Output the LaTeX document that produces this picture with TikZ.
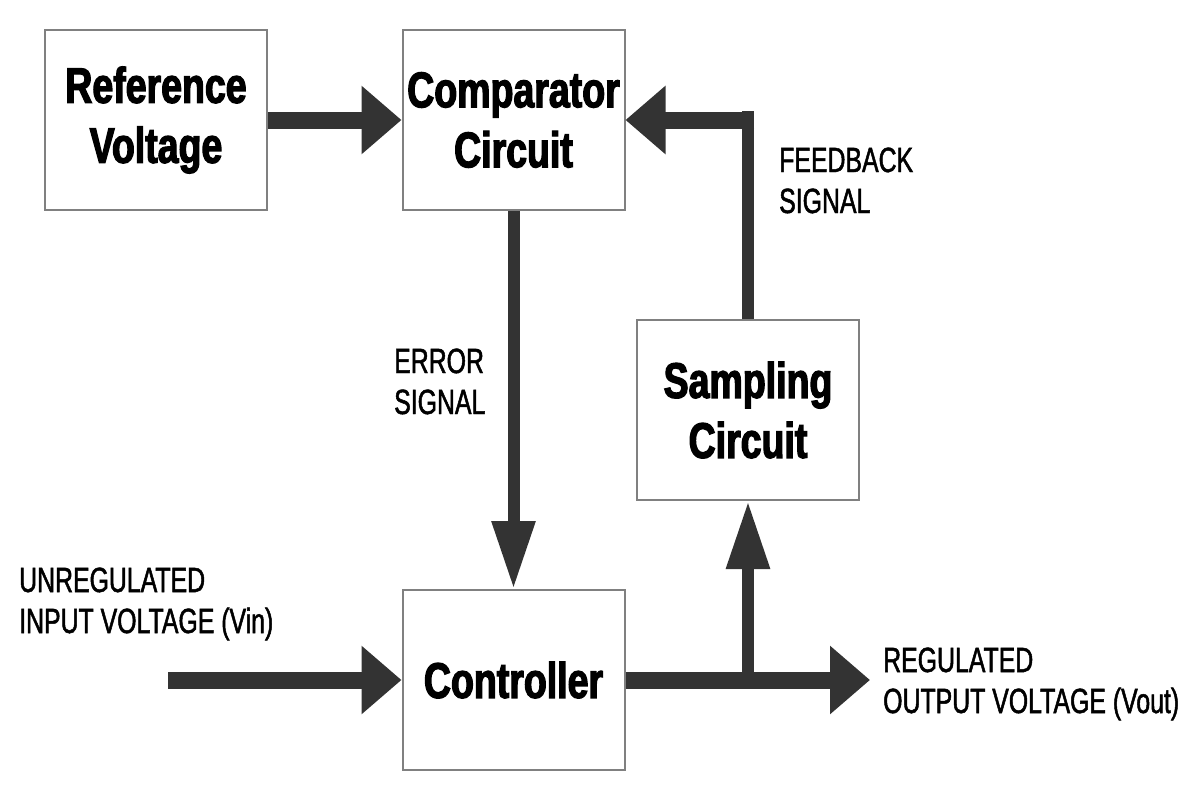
\documentclass[tikz,border=0pt]{standalone}
\usepackage{fontspec}
\usetikzlibrary{arrows.meta}
\newfontfamily\boxfont{Liberation Sans Bold}[FakeStretch=0.75,FakeBold=2.5]
\newfontfamily\lblfont{Liberation Sans}[FakeStretch=0.71,FakeBold=1.4]
\definecolor{arrowgray}{HTML}{333333}
\definecolor{boxgray}{HTML}{808080}
\tikzset{
  blockbox/.style={draw=boxgray, line width=2pt, fill=white, minimum width=222pt, minimum height=180pt, inner sep=0pt, align=center, font=\boxfont\fontsize{50}{60}\selectfont},
  hconn/.style={draw=arrowgray, line width=17pt, -{Triangle[length=40pt,width=66pt]}},
  vconn/.style={draw=arrowgray, line width=12pt, -{Triangle[length=68pt,width=41pt]}},
  vplain/.style={draw=arrowgray, line width=12pt},
  lbl/.style={inner sep=0pt, anchor=base west, align=left, font=\lblfont\fontsize{35}{41}\selectfont}
}
\begin{document}
\begin{tikzpicture}[x=1pt,y=-1pt]
\fill[white] (0,0) rectangle (1200,800);
\useasboundingbox (0,0) rectangle (1200,800);

\node[blockbox] (ref)  at (156,120)   {Reference\\Voltage};
\node[blockbox] (comp) at (513.5,120) {Comparator\\Circuit};
\node[blockbox] (samp) at (748,410)   {Sampling\\Circuit};
\node[blockbox] (ctrl) at (513.5,680) {Controller};

\coordinate (in)    at (168,680);
\coordinate (out)   at (870,680);
\coordinate (br)    at (748,680);
\coordinate (fbtop) at (748,111);
\coordinate (fbr)   at (754,120);

\draw[hconn] (ref.east) -- (comp.west);
\draw[vconn] (comp.south) -- (ctrl.north);
\draw[hconn] (in) -- (ctrl.west);
\draw[hconn] (ctrl.east) -- (out);
\draw[vconn] (br) -- (samp.south);
\draw[vplain] (samp.north) -- (fbtop);
\draw[hconn] (fbr) -- (comp.east);

\node[lbl] (err) at (394,414) {ERROR\\SIGNAL};
\node[lbl] (fb)  at (779,213) {FEEDBACK\\SIGNAL};
\node[lbl] (vin) at (19,633)  {UNREGULATED\\INPUT VOLTAGE (Vin)};
\node[lbl] (vout) at (883,713) {REGULATED\\OUTPUT VOLTAGE (Vout)};
\end{tikzpicture}
\end{document}
